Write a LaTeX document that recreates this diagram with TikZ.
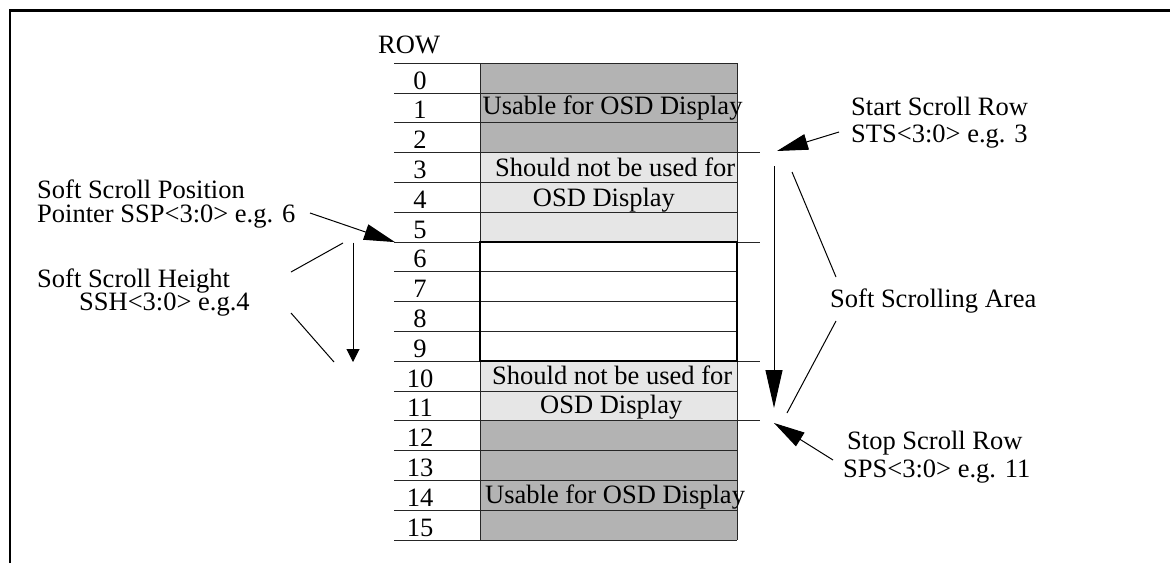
\documentclass[tikz,border=0pt]{standalone}
\usepackage{fontspec}
\setmainfont{Liberation Serif}
\usetikzlibrary{arrows.meta}
\definecolor{darkcell}{RGB}{179,179,179}
\definecolor{lightcell}{RGB}{230,230,230}
\begin{document}
\begin{tikzpicture}[x=1pt,y=-1pt,
  txt/.style={inner sep=0pt,anchor=base west,font=\fontsize{26.5}{24}\selectfont},
  num/.style={inner sep=0pt,anchor=base,font=\fontsize{26.5}{24}\selectfont},
  rowline/.style={line width=1pt,draw=black!85},
  conn/.style={line width=1pt},
  bigtip/.style={conn,-{Triangle[length=31pt,width=16pt]}},
  smalltip/.style={conn,-{Triangle[length=13pt,width=13pt]}},
  longtip/.style={conn,-{Triangle[length=38pt,width=17pt]}}
]
\useasboundingbox (0,0) rectangle (1170,563);
% outer frame (top and left edges)
\draw[line width=2.6pt] (9.8,563) -- (9.8,10.7) -- (1170,10.7);

% row cells
\foreach \i/\c in {0/darkcell,1/darkcell,2/darkcell,3/lightcell,4/lightcell,5/lightcell,
  6/white,7/white,8/white,9/white,10/lightcell,11/lightcell,
  12/darkcell,13/darkcell,14/darkcell,15/darkcell}{
  \fill[\c] (480,{63.3+29.8*\i}) rectangle (737,{63.3+29.8*(\i+1)});
}
% row separator lines
\foreach \i in {0,...,16}{
  \draw[rowline] (394,{63.3+29.8*\i}) -- (737,{63.3+29.8*\i});
}
\foreach \i in {3,6,10,12}{
  \draw[rowline] (737,{63.3+29.8*\i}) -- (760,{63.3+29.8*\i});
}
\draw[rowline] (480,63.3) -- (480,540.1);
\draw[rowline] (737,63.3) -- (737,540.1);
% bold scroll window
\draw[line width=2.2pt] (480,242.1) rectangle (737,361.3);

% row numbers
\node[txt] (rowhead) at (378,53) {ROW};
\foreach \i in {0,...,15}{
  \node[num] (n\i) at (420,{63.3+29.8*(\i+1)-4}) {\i};
}

% cell texts
\node[txt] (use1) at (482.5,114.3) {Usable for OSD Display};
\node[txt] (sn1) at (495,176.7) {Should not be used for};
\node[txt] (osd1) at (532.7,206) {OSD Display};
\node[txt] (sn2) at (492,384) {Should not be used for};
\node[txt] (osd2) at (540,413) {OSD Display};
\node[txt] (use2) at (485,503) {Usable for OSD Display};

% left labels
\node[txt] (ssp1) at (37,198) {Soft Scroll Position};
\node[txt] (ssp2) at (37,222) {Pointer SSP<3:0> e.g. 6};
\node[txt] (ssh1) at (37,287) {Soft Scroll Height};
\node[txt] (ssh2) at (79,310) {SSH<3:0> e.g.4};

% right labels
\node[txt] (sts1) at (851,115) {Start Scroll Row};
\node[txt] (sts2) at (851,142) {STS<3:0> e.g. 3};
\node[txt] (area) at (830,307) {Soft Scrolling Area};
\node[txt] (sps1) at (847,449) {Stop Scroll Row};
\node[txt] (sps2) at (843,477) {SPS<3:0> e.g. 11};

% connector end points
\coordinate (sspA) at (310,213);
\coordinate (sspB) at (395,242.1);
\coordinate (hA) at (353,242.5);
\coordinate (hB) at (353,362);
\coordinate (sshA1) at (291,272);
\coordinate (sshB1) at (343,243);
\coordinate (sshA2) at (291,313);
\coordinate (sshB2) at (334,362);
\coordinate (stsA) at (839,132);
\coordinate (stsB) at (777,151);
\coordinate (vA) at (774,166);
\coordinate (vB) at (774,408);
\coordinate (arA1) at (836,277);
\coordinate (arB1) at (792,172);
\coordinate (arA2) at (836,321);
\coordinate (arB2) at (787,413);
\coordinate (spsA) at (833,460);
\coordinate (spsB) at (774,423);

% connectors
\draw[bigtip] (sspA) -- (sspB);
\draw[smalltip] (hA) -- (hB);
\draw[conn] (sshA1) -- (sshB1);
\draw[conn] (sshA2) -- (sshB2);
\draw[bigtip] (stsA) -- (stsB);
\draw[longtip] (vA) -- (vB);
\draw[conn] (arA1) -- (arB1);
\draw[conn] (arA2) -- (arB2);
\draw[bigtip] (spsA) -- (spsB);
\end{tikzpicture}
\end{document}
